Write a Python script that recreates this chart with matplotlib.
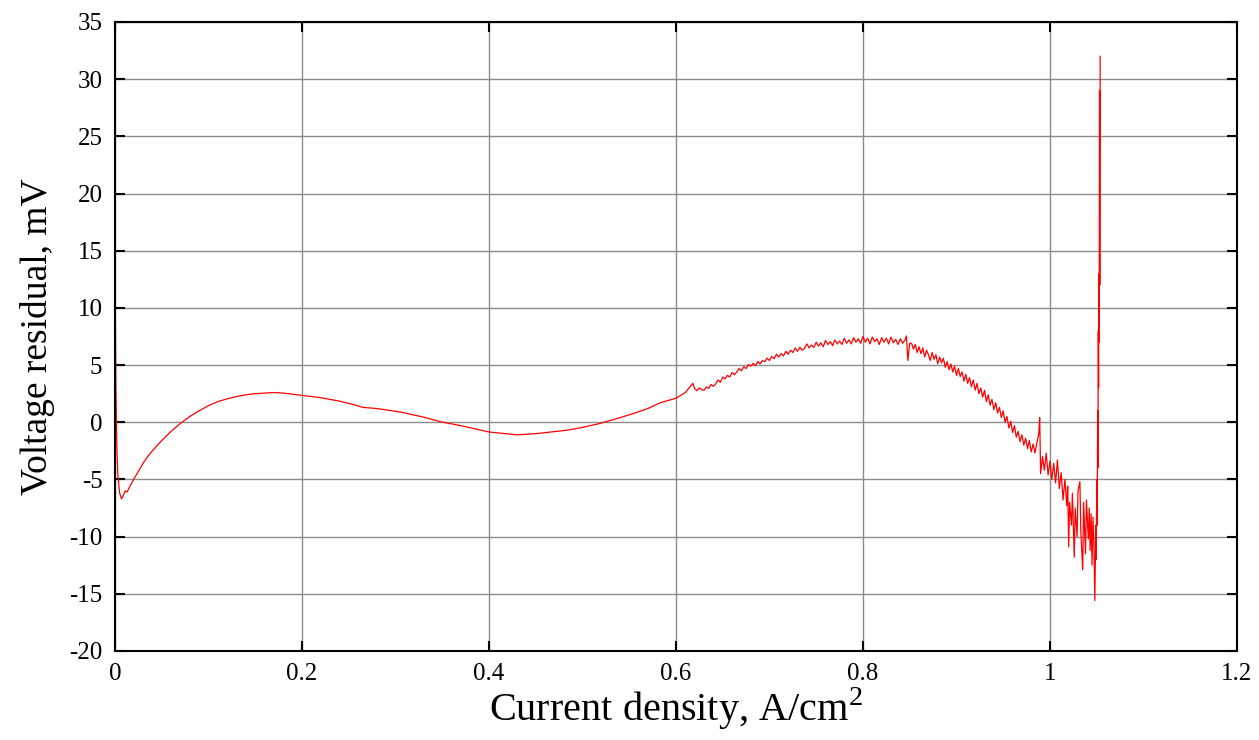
import numpy as np
import matplotlib
matplotlib.use("Agg")
import matplotlib.pyplot as plt

# smooth part of the residual curve (A/cm^2, mV)
smooth_j = [0.0005, 0.001, 0.002, 0.003, 0.005, 0.007, 0.009, 0.011, 0.013, 0.016,
            0.020, 0.025, 0.030, 0.035, 0.040, 0.050, 0.060, 0.070, 0.080, 0.090,
            0.100, 0.110, 0.120, 0.130, 0.140, 0.150, 0.160, 0.170, 0.180, 0.190,
            0.200, 0.220, 0.240, 0.255, 0.265, 0.280, 0.305, 0.330, 0.348, 0.370,
            0.400, 0.430, 0.450, 0.483, 0.500, 0.519, 0.540, 0.554, 0.570, 0.583,
            0.600, 0.610, 0.618]
smooth_v = [8.5, 3.0, -2.0, -4.5, -6.2, -6.7, -6.4, -6.0, -6.1, -5.6,
            -5.0, -4.3, -3.6, -3.0, -2.5, -1.6, -0.8, -0.1, 0.5, 1.0,
            1.45, 1.8, 2.05, 2.25, 2.4, 2.5, 2.55, 2.6, 2.55, 2.45,
            2.35, 2.15, 1.85, 1.55, 1.3, 1.2, 0.9, 0.45, 0.05, -0.3,
            -0.85, -1.1, -1.0, -0.7, -0.45, -0.1, 0.4, 0.75, 1.2, 1.7,
            2.1, 2.6, 3.4]

# jittery middle part
mid_j = [0.6200, 0.6225, 0.6250, 0.6275, 0.6300, 0.6325, 0.6350, 0.6375, 0.6400, 0.6425,
         0.6450, 0.6475, 0.6500, 0.6525, 0.6550, 0.6575, 0.6600, 0.6625, 0.6650, 0.6675,
         0.6700, 0.6725, 0.6750, 0.6775, 0.6800, 0.6825, 0.6850, 0.6875, 0.6900, 0.6925,
         0.6950, 0.6975, 0.7000, 0.7025, 0.7050, 0.7075, 0.7100, 0.7125, 0.7150, 0.7175,
         0.7200, 0.7225, 0.7250, 0.7275, 0.7300, 0.7325, 0.7350, 0.7375, 0.7400, 0.7425,
         0.7450, 0.7475, 0.7500, 0.7525, 0.7550, 0.7575, 0.7600, 0.7625, 0.7650, 0.7675,
         0.7700, 0.7725, 0.7750, 0.7775, 0.7800, 0.7825, 0.7850, 0.7875, 0.7900, 0.7925,
         0.7950, 0.7975, 0.8000, 0.8025, 0.8050, 0.8075, 0.8100, 0.8125, 0.8150, 0.8175,
         0.8200, 0.8225, 0.8250, 0.8275, 0.8300, 0.8325, 0.8350, 0.8375, 0.8400, 0.8425,
         0.8450, 0.8465, 0.8480, 0.8500]
mid_v = [2.95, 2.75, 3.0, 2.85, 2.8, 3.1, 2.95, 3.3, 3.15, 3.35,
         3.7, 3.5, 3.95, 3.8, 4.1, 3.95, 4.35, 4.15, 4.4, 4.7,
         4.5, 4.85, 4.7, 5.05, 4.9, 5.15, 4.95, 5.3, 5.1, 5.4,
         5.3, 5.6, 5.4, 5.75, 5.55, 5.95, 5.7, 6.0, 5.8, 6.2,
         5.95, 6.3, 6.1, 6.5, 6.2, 6.55, 6.3, 6.45, 6.85, 6.5,
         6.75, 6.55, 7.0, 6.65, 6.95, 6.6, 7.15, 6.8, 7.05, 6.7,
         7.2, 6.85, 7.1, 6.8, 7.35, 6.9, 7.2, 6.85, 7.4, 7.0,
         7.3, 6.9, 7.5, 7.0, 7.35, 6.85, 7.45, 7.05, 7.3, 6.8,
         7.4, 7.0, 7.35, 6.85, 7.45, 6.95, 7.25, 6.8, 7.3, 6.9,
         7.2, 7.55, 5.4, 6.9]

# falling, noisier part up to the breakdown
tail_j = [0.852, 0.854, 0.856, 0.858, 0.860, 0.862, 0.864, 0.866, 0.868, 0.870,
          0.872, 0.874, 0.876, 0.878, 0.880, 0.882, 0.884, 0.886, 0.888, 0.890,
          0.892, 0.894, 0.896, 0.898, 0.900, 0.902, 0.904, 0.906, 0.908, 0.910,
          0.912, 0.914, 0.916, 0.918, 0.920, 0.922, 0.924, 0.926, 0.928, 0.930,
          0.932, 0.934, 0.936, 0.938, 0.940, 0.942, 0.944, 0.946, 0.948, 0.950,
          0.952, 0.954, 0.956, 0.958, 0.960, 0.962, 0.964, 0.966, 0.968, 0.970,
          0.972, 0.974, 0.976, 0.978, 0.980, 0.982, 0.984, 0.986, 0.988, 0.989,
          0.990, 0.992, 0.994, 0.996, 0.998, 1.000, 1.002, 1.004, 1.006, 1.008,
          1.010, 1.012, 1.014, 1.016, 1.018, 1.019, 1.020, 1.021, 1.023, 1.024,
          1.026, 1.027, 1.029, 1.030, 1.032, 1.033, 1.035, 1.036, 1.038, 1.039,
          1.041, 1.042, 1.043, 1.044, 1.045, 1.046, 1.047, 1.048]
tail_v = [6.9, 6.4, 6.8, 6.1, 6.6, 6.0, 6.5, 5.7, 6.3, 5.9,
          5.4, 6.1, 5.5, 5.9, 5.1, 5.7, 5.2, 5.6, 4.8, 5.3,
          4.6, 5.1, 4.4, 4.9, 4.1, 4.7, 4.0, 4.4, 3.6, 4.2,
          3.4, 3.9, 3.1, 3.7, 2.8, 3.4, 2.5, 3.0, 2.2, 2.8,
          1.8, 2.4, 1.5, 2.0, 1.1, 1.7, 0.8, 1.3, 0.4, 1.0,
          0.0, 0.5, -0.5, 0.1, -0.9, -0.3, -1.3, -0.8, -1.7, -1.1,
          -2.0, -1.4, -2.3, -1.6, -2.6, -1.9, -2.7, -1.8, -1.0, 0.4,
          -4.5, -3.0, -4.2, -2.7, -4.6, -3.4, -5.0, -3.6, -5.3, -3.3,
          -5.8, -4.4, -6.8, -5.0, -7.3, -5.6, -10.9, -7.0, -9.0, -6.2,
          -11.8, -7.5, -10.0, -6.0, -5.2, -9.5, -12.9, -7.0, -11.5, -6.8,
          -10.2, -7.5, -11.2, -8.0, -12.5, -8.3, -10.5, -15.6]

# final spike
spike_j = [1.0490, 1.0495, 1.0500, 1.0505, 1.0510, 1.0513, 1.0517, 1.0520,
           1.0523, 1.0526, 1.0530, 1.0533, 1.0537]
spike_v = [-9.0, -12.0, -5.0, -9.0, 1.0, -4.0, 8.0, 3.0,
           13.0, 7.0, 29.0, 12.0, 32.0]

j = np.concatenate([smooth_j, mid_j, tail_j, spike_j])
v = np.concatenate([smooth_v, mid_v, tail_v, spike_v])

plt.rcParams["font.family"] = ["Liberation Serif", "DejaVu Serif"]
plt.rcParams["mathtext.fontset"] = "custom"
plt.rcParams["mathtext.rm"] = "Liberation Serif"
plt.rcParams["axes.unicode_minus"] = False

fig = plt.figure(figsize=(12.59, 7.40), dpi=100)
ax = fig.add_axes([0.0913, 0.1203, 0.8912, 0.85])

ax.plot(j, v, color="red", lw=0.9)

ax.set_xlim(0, 1.2)
ax.set_ylim(-20, 35)
ax.set_xticks(np.arange(0, 1.21, 0.2))
ax.set_yticks(np.arange(-20, 36, 5))
ax.xaxis.set_major_formatter(matplotlib.ticker.FormatStrFormatter("%g"))
ax.grid(True, color="#8c8c8c", lw=1.0)
ax.set_axisbelow(True)
for s in ax.spines.values():
    s.set_linewidth(1.5)
ax.tick_params(direction="in", length=7, width=1.5, labelsize=18,
               top=True, right=True, pad=9)

ax.set_xlabel("Current density, A/cm$^2$", fontsize=29, labelpad=0)
ax.set_ylabel("Voltage residual, mV", fontsize=27, labelpad=10)

fig.savefig("out.png", dpi=100)
